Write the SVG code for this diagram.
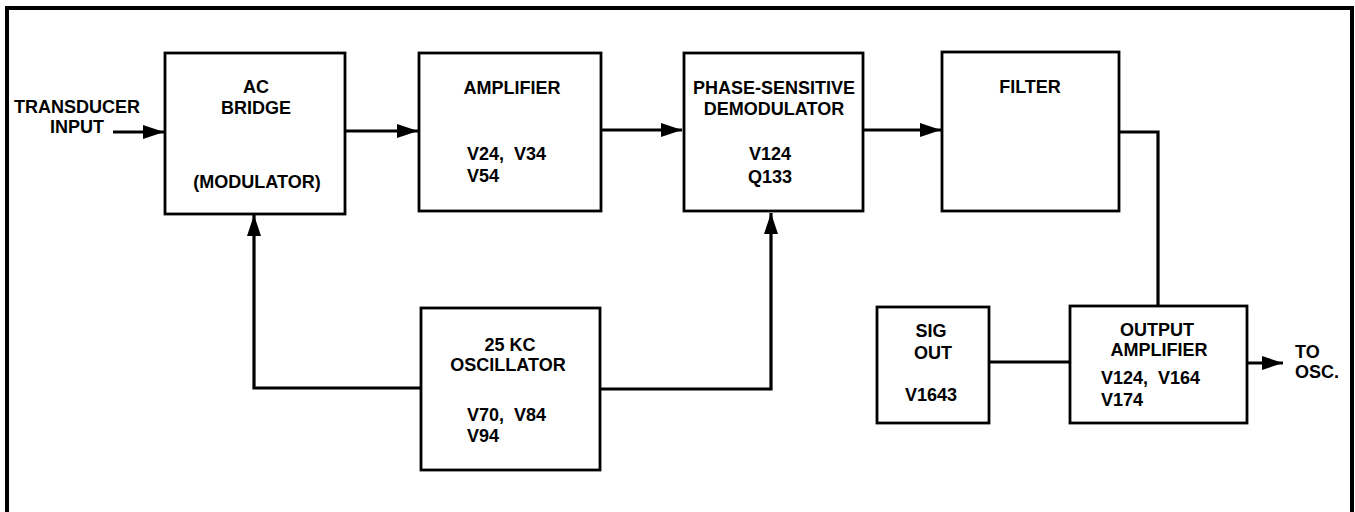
<svg xmlns="http://www.w3.org/2000/svg" width="1355" height="512" viewBox="0 0 1355 512">
<style>
.box{fill:#fff;stroke:#000;stroke-width:2.8}
.ln{fill:none;stroke:#000;stroke-width:3.2}
text{font-family:"Liberation Sans",Arial,sans-serif;font-weight:bold;font-size:18px;fill:#000;white-space:pre}
.c{text-anchor:middle}
</style>
<defs>
<marker id="ah" markerWidth="21" markerHeight="14" refX="21" refY="7" orient="auto" markerUnits="userSpaceOnUse">
<path d="M0,0 L21,7 L0,14 z" fill="#000"/>
</marker>
</defs>
<rect width="1355" height="512" fill="#fff"/>
<path d="M7,512 V8 H1352 V512" fill="none" stroke="#000" stroke-width="4"/>
<g id="connectors">
<path class="ln" d="M113,132 H164" marker-end="url(#ah)"/>
<path class="ln" d="M345,131 H418" marker-end="url(#ah)"/>
<path class="ln" d="M601,130 H682" marker-end="url(#ah)"/>
<path class="ln" d="M863,130 H941" marker-end="url(#ah)"/>
<path class="ln" d="M1119,132 H1158 V306"/>
<path class="ln" d="M421,388 H254 V215" marker-end="url(#ah)"/>
<path class="ln" d="M600,389 H771 V213" marker-end="url(#ah)"/>
<path class="ln" d="M989,362 H1070"/>
<path class="ln" d="M1247,363 H1283" marker-end="url(#ah)"/>
</g>
<g id="input-label">
<text class="c" x="77" y="113">TRANSDUCER</text>
<text class="c" x="77" y="133">INPUT</text>
</g>
<g id="ac-bridge">
<rect class="box" x="165" y="53" width="180" height="161"/>
<text class="c" x="256" y="93">AC</text>
<text class="c" x="256" y="114">BRIDGE</text>
<text class="c" x="257" y="188">(MODULATOR)</text>
</g>
<g id="amplifier">
<rect class="box" x="419" y="53" width="182" height="158"/>
<text class="c" x="512" y="94">AMPLIFIER</text>
<text x="467" y="160" xml:space="preserve">V24,  V34</text>
<text x="467" y="182">V54</text>
</g>
<g id="demodulator">
<rect class="box" x="684" y="53" width="179" height="158"/>
<text class="c" x="774" y="94">PHASE-SENSITIVE</text>
<text class="c" x="774" y="115">DEMODULATOR</text>
<text class="c" x="770" y="160">V124</text>
<text class="c" x="770" y="183">Q133</text>
</g>
<g id="filter">
<rect class="box" x="942" y="52" width="177" height="159"/>
<text class="c" x="1030" y="93">FILTER</text>
</g>
<g id="oscillator">
<rect class="box" x="421" y="308" width="179" height="162"/>
<text class="c" x="510" y="351">25 KC</text>
<text class="c" x="508" y="371">OSCILLATOR</text>
<text x="467" y="421" xml:space="preserve">V70,  V84</text>
<text x="467" y="442">V94</text>
</g>
<g id="sig-out">
<rect class="box" x="877" y="307" width="112" height="116"/>
<text class="c" x="931" y="337">SIG</text>
<text class="c" x="933" y="359">OUT</text>
<text class="c" x="931" y="401">V1643</text>
</g>
<g id="output-amplifier">
<rect class="box" x="1070" y="306" width="177" height="117"/>
<text class="c" x="1157" y="336">OUTPUT</text>
<text class="c" x="1159" y="356">AMPLIFIER</text>
<text x="1101" y="384" xml:space="preserve">V124,  V164</text>
<text x="1101" y="406">V174</text>
</g>
<g id="output-label">
<text x="1295" y="358">TO</text>
<text x="1295" y="378">OSC.</text>
</g>
</svg>
